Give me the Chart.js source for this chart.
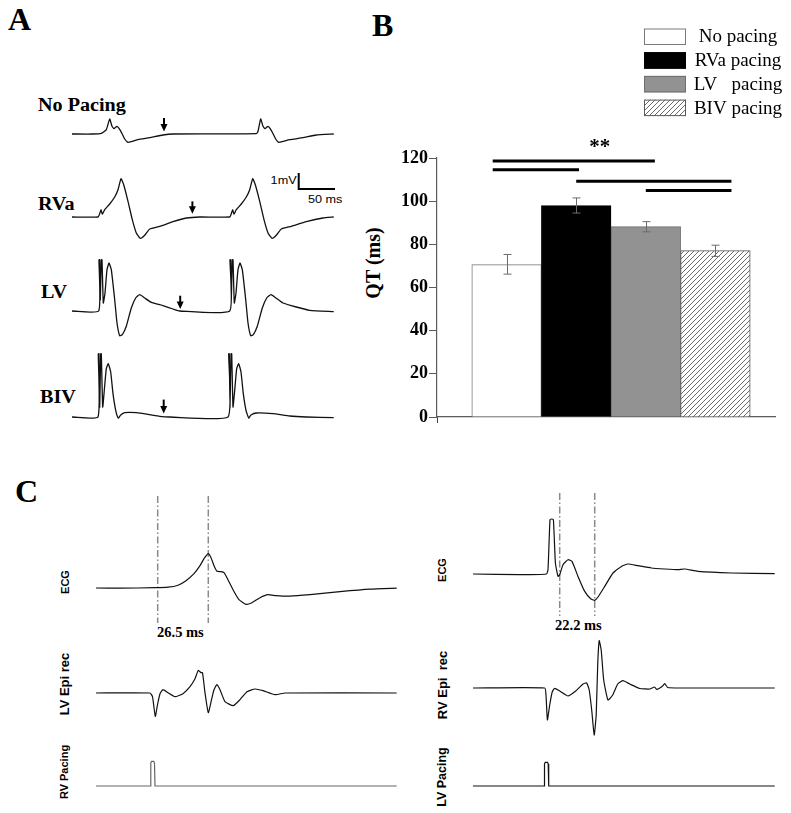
<!DOCTYPE html>
<html>
<head>
<meta charset="utf-8">
<script src="https://cdn.jsdelivr.net/npm/chart.js@4.4.1/dist/chart.umd.min.js"></script>
<style>
  body { margin: 0; background: #fff; width: 791px; height: 813px; position: relative; overflow: hidden; }
  canvas { position: absolute; }
  .serif { position: absolute; font-family: "Liberation Serif", "Times New Roman", serif; font-weight: bold; line-height: 1; white-space: pre; color: #000; }
  .sans { position: absolute; font-family: "Liberation Sans", Arial, sans-serif; line-height: 1; white-space: pre; color: #000; }
  .wide { transform: scaleX(1.12); transform-origin: 0 50%; }
  .rot { transform: translate(-50%, -50%) rotate(-90deg); font-weight: bold; }
</style>
</head>
<body>
<!-- panel letters -->
<div class="serif" style="left:8px;top:3px;font-size:32px">A</div>
<div class="serif" style="left:372px;top:9px;font-size:32px">B</div>
<div class="serif" style="left:15px;top:475px;font-size:32px">C</div>

<!-- panel A labels -->
<div class="serif wide" style="left:38px;top:96px;font-size:18px">No Pacing</div>
<div class="serif wide" style="left:38px;top:195px;font-size:18px">RVa</div>
<div class="serif wide" style="left:41px;top:283px;font-size:18px">LV</div>
<div class="serif wide" style="left:40px;top:388px;font-size:18px">BIV</div>
<div class="sans" style="right:494px;top:175px;font-size:11px;transform:scaleX(1.15);transform-origin:100% 50%">1mV</div>
<div class="sans" style="left:308px;top:194px;font-size:11px;transform:scaleX(1.15);transform-origin:0 50%">50 ms</div>

<!-- panel B axis title -->
<div class="serif rot" style="left:373px;top:263px;font-size:20px">QT (ms)</div>

<!-- panel C labels -->
<div class="serif" style="left:157px;top:625px;font-size:14.5px">26.5 ms</div>
<div class="serif" style="left:555px;top:618px;font-size:14.5px">22.2 ms</div>
<div class="sans rot" style="left:65px;top:582px;font-size:11px">ECG</div>
<div class="sans rot" style="left:64px;top:684px;font-size:13px">LV Epi rec</div>
<div class="sans rot" style="left:64px;top:772px;font-size:11px">RV Pacing</div>
<div class="sans rot" style="left:442px;top:570px;font-size:11px">ECG</div>
<div class="sans rot" style="left:442px;top:685px;font-size:13px">RV Epi  rec</div>
<div class="sans rot" style="left:442px;top:777px;font-size:12.5px">LV Pacing</div>

<canvas id="qtChart" width="431" height="440" style="left:360px;top:0px"></canvas>

<script>
// ---- panel B data ----
const groups = ['No pacing', 'RVa pacing', 'LV   pacing', 'BIV pacing'];
const barPos = [1, 2, 3, 4];
const qtMean = [70.6, 97.9, 88.2, 77.1];
const qtLow = [66.2, 94.5, 85.8, 74.4];
const qtHigh = [75.3, 101.5, 90.5, 79.6];
const sigFrom = [0.8, 0.8, 2.0, 3.0];
const sigTo = [3.13, 2.04, 4.23, 4.23];
const sigLevel = [118.6, 114.6, 109.2, 104.9];

// ---- panel A traces: [time, amplitude] relative to trace start / baseline ----
const traceNoPacing = [[0,0],[21,0],[29.3,0.7],[34.3,4.3],[37.7,15],[40,7.7],[42,5.3],[45,7.7],[48.3,3.7],[52.7,-5],[56,-8.3],[59.3,-7.7],[66,-5.7],[77.7,-3.7],[91,-1],[101,0],[184.3,0.3],[186,2.7],[188.7,15],[191,7.7],[193,5.3],[196,7.7],[199.3,3.7],[203.7,-5],[206.7,-8.3],[210.3,-7.7],[217.7,-5.7],[231,-3.7],[244.3,-1],[261.7,0]];
const traceRVa = [[0,0],[26,0],[27.7,3.3],[29,7.3],[30.3,2.7],[32.7,7.3],[37.7,13],[42.7,20],[46,27.3],[49,38.3],[51.7,32.3],[56,15.7],[60.3,-2.7],[64.3,-16],[68.3,-21.3],[72.7,-18.3],[77.7,-12],[87.7,-9.3],[101,-4.7],[114.3,-1],[127.7,0],[157.7,0],[159.3,3.3],[160.7,7.3],[162,2.7],[164.3,7.3],[169.3,13],[174.3,20],[177.7,27.3],[180.7,38.3],[183.3,32.3],[187.7,15.7],[192,-2.7],[196,-16],[200,-21.3],[204.3,-18.3],[209.3,-12],[219.3,-9.3],[234.3,-4.7],[251,-1],[261.7,0]];
const traceLV = [[0,0],[26.7,0],[27,51.3],[27.7,51.3],[28.3,11.3],[29.3,51.3],[30,51.3],[31.3,8],[33,18],[35,41.3],[37,48],[39.3,41.3],[42.7,11.3],[45,-12],[47.7,-24.7],[50.3,-23.7],[54.3,-15.3],[59.3,3],[63.7,13],[67.7,16.3],[72.7,13],[79.3,8.7],[91,5.3],[101,2],[107.7,0],[157.7,0],[158,51.3],[158.7,51.3],[159.3,11.3],[160.3,51.3],[161,51.3],[162.3,8],[164,18],[166,41.3],[168,48],[170.3,41.3],[173.7,11.3],[176,-12],[178.7,-24.7],[181.3,-23.7],[185.3,-15.3],[190.3,3],[194.7,13],[199,16.3],[204,13],[211,8],[224.3,4],[237.7,0.7],[261.7,-0.7]];
const traceBIV = [[0,0],[26,0],[26.3,63.3],[27,63.3],[27.7,10],[28.7,63.3],[29.3,63.3],[30.7,10],[32.3,26.7],[34.3,48.3],[36.3,53.3],[38.7,45],[41,23.3],[43.7,6.7],[46.3,-1],[48.7,2],[52.7,4.3],[64.3,4.3],[76,2.7],[87.7,0.7],[97.7,0],[156,0],[156.7,63.3],[157.3,63.3],[158,10],[159,63.3],[159.7,63.3],[161,10],[162.7,26.7],[164.7,48.3],[166.7,53.3],[169,45],[171.3,23.3],[174,6.7],[176.7,-1],[179,2],[184.3,4],[201,3.3],[217.7,1],[234.3,0],[261.7,-0.7]];
const arrowT = [92, 120.4, 108.2, 91.7];
const arrowTipV = [2.6, 3.3, 2.0, 3.4];
const arrowTopV = [16, 15.6, 15.3, 17.4];
const scaleBarT = [226.7, 273.7];   // 50 ms
const scaleBarV = [28, 44];         // 1 mV

// ---- panel C traces ----
const leftECG = [[0,0],[24,-0.2],[59,0.3],[72,0.8],[82,2.8],[90,7.3],[98,14.3],[104,22.3],[108,29.3],[112.3,34.3],[115,30.3],[118,22.3],[121,16.8],[125,16.3],[128,15.3],[132,8.3],[137,-1.7],[143,-11.7],[150,-16.4],[156,-14.7],[164,-9.7],[172,-6.7],[180,-7.7],[194,-8.2],[214,-6.7],[244,-3.7],[274,-1.2],[300.7,-0.2]];
const leftEpi = [[0,0],[54,0],[56.5,-3.7],[59.3,-23.4],[61.5,-11.7],[64,-0.7],[67,3.3],[72,0.3],[79,-3.7],[87,-0.7],[94,6.3],[99,14.3],[102.3,22.6],[105,20.3],[106.5,20.3],[109,0.3],[112.3,-19.7],[115.5,-6.7],[118,3.3],[120.7,8.3],[124,3.3],[129,-8.7],[137.3,-12.7],[144,-6.7],[151,1.3],[159,4],[167,2.3],[179,-1.7],[189,0],[300.7,0]];
const leftPacing = [[0,0],[54.3,0],[54.8,23],[55.5,24.7],[57.8,24.7],[58.5,23],[59,0],[300.7,0]];
const rightECG = [[0,0],[46.7,-0.7],[73.4,0],[75,4.3],[77,54.3],[78.7,55],[80.4,54.3],[82.4,11],[85,-2.4],[86.7,-0.7],[90,9.3],[95,14.3],[99,12.6],[105,-2.4],[111.7,-17.4],[117.7,-24.7],[121.7,-26.4],[125,-23],[131.7,-12.4],[140,1],[148.4,7.6],[155,10],[165,8.3],[178.4,6],[191.7,5],[205,4.3],[211.7,5],[225,2.6],[258.4,1],[301.7,0.3]];
const rightEpi = [[0,0],[71.7,0],[73,-7],[74.4,-32],[76.7,-17],[79.2,-4],[81.7,-0.3],[86.7,-3],[95,-8],[102.7,-3],[110,4],[113.7,5],[116.2,-2],[118.7,-22],[121.2,-47],[123.2,-27],[124.7,23],[126.2,47.3],[128.2,38],[130.7,8],[135,-12],[139.7,-7],[144.7,4],[150,7.3],[156.7,4],[166.7,-0.5],[176.7,-1],[181.7,1],[183.7,-1.5],[189.7,2],[191.7,4.5],[194.7,0.5],[206.7,0],[301.7,0]];
const rightPacing = [[0,0],[71,0],[71.5,22],[72.2,23.7],[74.5,23.7],[75.2,22],[75.7,0],[301.7,0]];
const leftMarksT = [61.7, 112.3];   // 26.5 ms interval
const rightMarksT = [86.7, 121.7];  // 22.2 ms interval

// ---------- bar chart ----------
function hatchPattern() {
  const c = document.createElement('canvas');
  c.width = 5; c.height = 5;
  const g = c.getContext('2d');
  g.fillStyle = '#fff';
  g.fillRect(0, 0, 5, 5);
  g.strokeStyle = '#6a6a6a';
  g.lineWidth = 1;
  g.beginPath();
  g.moveTo(0, 5); g.lineTo(5, 0);
  g.moveTo(-1, 1); g.lineTo(1, -1);
  g.moveTo(4, 6); g.lineTo(6, 4);
  g.stroke();
  return g.createPattern(c, 'repeat');
}
const hatch = hatchPattern();
const fills = ['#ffffff', '#000000', '#929292', hatch];
const edges = ['#7a7a7a', '#000000', '#6e6e6e', '#5a5a5a'];

const barExtras = {
  id: 'barExtras',
  afterDatasetsDraw(chart) {
    const { ctx, scales: { x, y } } = chart;
    ctx.save();
    // error bars
    ctx.strokeStyle = '#6b6b6b';
    ctx.lineWidth = 1;
    qtMean.forEach((m, i) => {
      const px = Math.round(x.getPixelForValue(barPos[i])) + 0.5;
      const lo = y.getPixelForValue(qtLow[i]);
      const hi = y.getPixelForValue(qtHigh[i]);
      ctx.beginPath();
      ctx.moveTo(px, lo); ctx.lineTo(px, hi);
      ctx.moveTo(px - 4, lo); ctx.lineTo(px + 4, lo);
      ctx.moveTo(px - 4, hi); ctx.lineTo(px + 4, hi);
      ctx.stroke();
    });
    // significance brackets
    ctx.strokeStyle = '#000';
    ctx.lineWidth = 3;
    sigLevel.forEach((lv, i) => {
      const py = y.getPixelForValue(lv);
      ctx.beginPath();
      ctx.moveTo(x.getPixelForValue(sigFrom[i]), py);
      ctx.lineTo(x.getPixelForValue(sigTo[i]), py);
      ctx.stroke();
    });
    ctx.fillStyle = '#000';
    ctx.font = 'bold 21px "Liberation Serif", serif';
    ctx.textAlign = 'center';
    ctx.textBaseline = 'alphabetic';
    ctx.fillText('**', x.getPixelForValue(2.34), y.getPixelForValue(122.5));
    // legend
    ctx.font = '19px "Liberation Serif", serif';
    ctx.textBaseline = 'middle';
    groups.forEach((g, i) => {
      const top = 28.5 + i * 23.7;
      ctx.fillStyle = fills[i];
      ctx.fillRect(284, top, 42, 16.5);
      ctx.lineWidth = 1;
      ctx.strokeStyle = i === 1 ? '#000' : edges[i];
      ctx.strokeRect(284.5, top + 0.5, 41, 15.5);
      ctx.fillStyle = '#000';
      ctx.fillText(g, 378, top + 9);
    });
    ctx.restore();
  }
};

new Chart(document.getElementById('qtChart'), {
  type: 'bar',
  data: {
    datasets: [{
      label: 'QT (ms)',
      data: qtMean.map((v, i) => ({ x: barPos[i], y: v })),
      backgroundColor: fills,
      borderColor: edges,
      borderWidth: 1,
      barPercentage: 1,
      categoryPercentage: 1
    }]
  },
  options: {
    responsive: false,
    animation: false,
    events: [],
    layout: { padding: { top: 158, right: 16, left: 0, bottom: 0 } },
    plugins: { legend: { display: false }, tooltip: { enabled: false } },
    scales: {
      x: {
        type: 'linear',
        offset: false,
        min: 0,
        max: 4.856,
        afterBuildTicks: s => { s.ticks = [{ value: 2.5 }]; },
        afterFit: s => { s.height = 23; },
        ticks: { display: false },
        grid: { drawOnChartArea: false, drawTicks: true, tickLength: 6, color: '#444' },
        border: { color: '#5a5a5a', width: 1.2 }
      },
      y: {
        min: 0,
        max: 120,
        afterFit: s => { s.width = 77; },
        ticks: { stepSize: 20, padding: 1, color: '#000', font: { family: '"Liberation Serif", serif', size: 18, weight: 'bold' } },
        grid: { drawOnChartArea: false, drawTicks: true, tickLength: 8, color: '#5a5a5a' },
        border: { color: '#5a5a5a', width: 1.2 }
      }
    }
  },
  plugins: [barExtras]
});

// ---------- trace charts ----------
const traceMarks = {
  id: 'traceMarks',
  beforeDatasetsDraw(chart, args, opts) {
    if (!opts.vlines) return;
    const { ctx, chartArea, scales: { x } } = chart;
    ctx.save();
    ctx.strokeStyle = '#8a8a8a';
    ctx.lineWidth = 1.5;
    ctx.setLineDash([7, 2.5, 1.5, 2.5]);
    opts.vlines.forEach(t => {
      const px = x.getPixelForValue(t);
      ctx.beginPath();
      ctx.moveTo(px, chartArea.top);
      ctx.lineTo(px, chartArea.bottom);
      ctx.stroke();
    });
    ctx.restore();
  },
  afterDatasetsDraw(chart, args, opts) {
    const { ctx, scales: { x, y } } = chart;
    ctx.save();
    ctx.fillStyle = '#000';
    ctx.strokeStyle = '#000';
    if (opts.arrow) {
      const a = opts.arrow;
      const px = x.getPixelForValue(a.t);
      const tip = y.getPixelForValue(a.tip);
      const top = y.getPixelForValue(a.top);
      ctx.lineWidth = 2;
      ctx.beginPath();
      ctx.moveTo(px, top);
      ctx.lineTo(px, tip - 6);
      ctx.stroke();
      ctx.beginPath();
      ctx.moveTo(px - 3.5, tip - 7.5);
      ctx.lineTo(px + 3.5, tip - 7.5);
      ctx.lineTo(px, tip);
      ctx.closePath();
      ctx.fill();
    }
    if (opts.scaleBar) {
      const x0 = x.getPixelForValue(scaleBarT[0]);
      const x1 = x.getPixelForValue(scaleBarT[1]);
      const y0 = y.getPixelForValue(scaleBarV[0]);
      const y1 = y.getPixelForValue(scaleBarV[1]);
      ctx.lineWidth = 2;
      ctx.beginPath();
      ctx.moveTo(x0, y1);
      ctx.lineTo(x0, y0);
      ctx.lineTo(x1, y0);
      ctx.stroke();
    }
    ctx.restore();
  }
};

function traceChart(points, spec) {
  const cv = document.createElement('canvas');
  cv.width = spec.tMax;
  cv.height = spec.vMax - spec.vMin;
  cv.style.left = spec.left + 'px';
  cv.style.top = (spec.baseline - spec.vMax) + 'px';
  document.body.appendChild(cv);
  new Chart(cv, {
    type: 'scatter',
    data: {
      datasets: [{
        data: points.map(p => ({ x: p[0], y: p[1] })),
        showLine: true,
        borderColor: spec.color || '#111',
        borderWidth: spec.width || 1.3,
        pointRadius: 0,
        tension: spec.tension === undefined ? 0.15 : spec.tension,
        clip: false
      }]
    },
    options: {
      responsive: false,
      animation: false,
      events: [],
      layout: { padding: 0 },
      plugins: {
        legend: { display: false },
        tooltip: { enabled: false },
        traceMarks: { arrow: spec.arrow, scaleBar: spec.scaleBar, vlines: spec.vlines }
      },
      scales: {
        x: { type: 'linear', display: false, min: 0, max: spec.tMax },
        y: { type: 'linear', display: false, min: spec.vMin, max: spec.vMax }
      }
    },
    plugins: [traceMarks]
  });
}

const arrow = i => ({ t: arrowT[i], tip: arrowTipV[i], top: arrowTopV[i] });

traceChart(traceNoPacing, { left: 72.3, baseline: 134.3, tMax: 263, vMin: -12, vMax: 18, arrow: arrow(0) });
traceChart(traceRVa, { left: 72.3, baseline: 217.3, tMax: 263, vMin: -24, vMax: 46, arrow: arrow(1), scaleBar: true });
traceChart(traceLV, { left: 72.3, baseline: 311.3, tMax: 263, vMin: -27, vMax: 53, arrow: arrow(2) });
traceChart(traceBIV, { left: 72.3, baseline: 416.7, tMax: 263, vMin: -4, vMax: 65, arrow: arrow(3) });

traceChart(leftECG, { left: 96, baseline: 588.3, tMax: 301, vMin: -35, vMax: 92, vlines: leftMarksT, width: 1.2 });
traceChart(leftEpi, { left: 96, baseline: 693.3, tMax: 301, vMin: -26, vMax: 26, width: 1.2 });
traceChart(leftPacing, { left: 96, baseline: 786.3, tMax: 301, vMin: -3, vMax: 27, color: '#666', tension: 0, width: 1.2 });
traceChart(rightECG, { left: 473.3, baseline: 574.3, tMax: 302, vMin: -42, vMax: 81, vlines: rightMarksT, width: 1.2 });
traceChart(rightEpi, { left: 473.3, baseline: 688, tMax: 302, vMin: -50, vMax: 50, width: 1.2 });
traceChart(rightPacing, { left: 473.3, baseline: 786, tMax: 302, vMin: -3, vMax: 27, color: '#111', tension: 0, width: 1.2 });
</script>
</body>
</html>
